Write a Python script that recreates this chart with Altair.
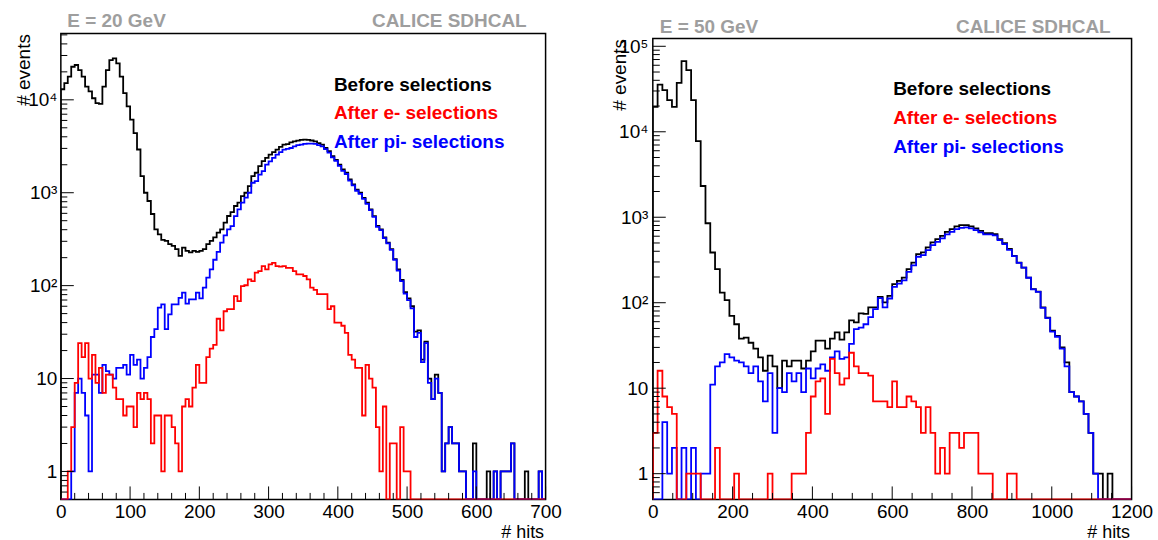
import altair as alt
import pandas as pd

FONT = "Liberation Sans"
FLOOR = 0.5  # y minimum of both panels; empty bins lie on it

# ---------------- E = 20 GeV : 140 bins of 5 hits (0..700) ----------------
bin_20 = 5
black_20 = [13000, 15100, 17800, 22700, 23700, 20900, 17800, 13900, 12300, 10400,
            9200, 9050, 13900, 20900, 26800, 28000, 24700, 17800, 11800, 8490,
            6110, 4390, 2920, 1510, 1000, 815, 590, 404, 357, 311,
            304, 280, 268, 247, 209, 257, 237, 228, 237, 231,
            237, 247, 280, 304, 330, 372, 404, 477, 562, 617,
            720, 782, 921, 1000, 1178, 1510, 1640, 1930, 2185, 2370,
            2575, 2730, 2910, 3110, 3290, 3340, 3490, 3570, 3630, 3700,
            3720, 3700, 3650, 3570, 3420, 3290, 3030, 2800, 2480, 2250,
            2010, 1780, 1640, 1390, 1230, 1080, 1000, 880, 780, 660,
            560, 440, 404, 330, 291, 247, 193, 150, 115, 85,
            73, 60, 32, 33, 16, 25, 10, 6, 11, 7,
            1, 2, 3, 2, 2, 1, 1, 0, 0, 2,
            0, 0, 0, 1, 0, 1, 0, 1, 1, 1,
            2, 0, 0, 0, 1, 0, 0, 0, 1, 0]
blue_20 = [0, 0, 0, 1, 7, 10, 7, 4, 1, 11,
           11, 7, 14, 12, 11, 10, 13, 13, 14, 11,
           18, 14, 16, 10, 13, 17, 28, 34, 58, 63,
           34, 49, 63, 63, 74, 84, 64, 71, 71, 84,
           73, 95, 122, 150, 190, 231, 291, 348, 404, 438,
           561, 662, 782, 884, 1000, 1280, 1333, 1570, 1710, 2010,
           2180, 2370, 2575, 2730, 2910, 2960, 3030, 3160, 3250, 3290,
           3350, 3380, 3380, 3350, 3250, 3150, 2950, 2700, 2400, 2200,
           1950, 1720, 1590, 1350, 1200, 1050, 970, 860, 760, 650,
           550, 430, 395, 325, 285, 243, 190, 145, 112, 82,
           70, 57, 28, 31, 15, 24, 9, 6, 10, 7,
           1, 2, 3, 2, 2, 1, 1, 0, 0, 1,
           0, 0, 0, 0, 0, 1, 0, 1, 1, 1,
           2, 0, 0, 0, 0, 0, 0, 0, 1, 0]
red_20 = [0, 0, 1, 3, 9, 24, 17, 24, 10, 18,
          9, 13, 7, 11, 11, 8, 6, 6, 4, 5,
          5, 3, 7, 6, 7, 6, 2, 4, 4, 1,
          4, 4, 3, 2, 1, 5, 6, 5, 8, 14,
          9, 9, 17, 21, 23, 44, 33, 53, 56, 56,
          77, 68, 99, 101, 117, 112, 138, 143, 162, 150,
          169, 176, 162, 160, 162, 155, 155, 143, 132, 132,
          127, 117, 95, 90, 81, 81, 81, 56, 60, 40,
          40, 37, 31, 18, 16, 13, 13, 4, 14, 10,
          8, 3, 1, 5, 0, 2, 2, 0, 3, 1,
          1, 0, 0, 0, 0, 0, 0, 0, 0, 0,
          0, 0, 0, 0, 0, 0, 0, 0, 0, 0,
          0, 0, 0, 0, 0, 0, 0, 0, 0, 0,
          0, 0, 0, 0, 0, 0, 0, 0, 0, 0]

# ---------------- E = 50 GeV : 100 bins of 12 hits (0..1200) ----------------
bin_50 = 12
black_50 = [19600, 35700, 30700, 23400, 19600, 37400, 66900, 52500, 23400, 7780,
            2320, 851, 387, 247, 131, 107, 70, 56, 38, 39,
            34, 29, 23, 16, 24, 18, 10, 21, 18, 21,
            21, 17, 21, 27, 36, 36, 29, 38, 45, 37,
            45, 62, 59, 75, 74, 88, 88, 117, 101, 120,
            165, 180, 197, 247, 294, 371, 388, 444, 508, 555,
            607, 676, 726, 781, 809, 809, 781, 740, 694, 653,
            653, 634, 555, 499, 425, 354, 294, 258, 197, 144,
            135, 88, 67, 47, 41, 30, 20, 9, 8, 7,
            5, 3, 1, 1, 0, 1, 0, 0, 0, 0]
blue_50 = [0, 0, 4, 1, 2, 0, 2, 0, 2, 0,
           1, 1, 11, 18, 20, 25, 23, 21, 20, 18,
           15, 18, 12, 7, 15, 3, 10, 9, 15, 12,
           15, 9, 17, 13, 17, 19, 16, 23, 27, 22,
           23, 33, 49, 51, 56, 68, 84, 113, 88, 112,
           153, 167, 183, 230, 273, 345, 361, 413, 472, 516,
           565, 629, 675, 726, 752, 760, 740, 705, 665, 630,
           630, 615, 540, 485, 415, 350, 292, 257, 196, 143,
           134, 87, 66, 46, 40, 29, 18, 9, 8, 7,
           5, 3, 1, 0, 0, 0, 0, 0, 0, 0]
red_50 = [3, 16, 8, 6, 5, 0, 0, 1, 1, 1,
          0, 0, 0, 2, 0, 0, 0, 1, 0, 0,
          0, 0, 0, 0, 1, 0, 0, 0, 0, 1,
          1, 1, 3, 8, 12, 13, 5, 22, 15, 11,
          13, 26, 18, 15, 15, 14, 7, 7, 7, 6,
          12, 6, 6, 8, 7, 6, 3, 6, 3, 1,
          2, 1, 3, 3, 2, 3, 3, 3, 1, 1,
          1, 0, 0, 0, 1, 1, 0, 0, 0, 0,
          0, 0, 0, 0, 0, 0, 0, 0, 0, 0,
          0, 0, 0, 0, 0, 0, 0, 0, 0, 0]

x_labels_20 = [0, 100, 200, 300, 400, 500, 600, 700]
x_labels_50 = [0, 200, 400, 600, 800, 1000, 1200]
y_labels_20 = [1, 10, 100, 1000, 10000]
y_labels_50 = [1, 10, 100, 1000, 10000, 100000]
legend_texts = ["Before selections", "After e- selections", "After pi- selections"]
legend_colors = ["#000000", "#ff0000", "#0000ff"]
energy_texts = ["E = 20 GeV", "E = 50 GeV"]
experiment = "CALICE SDHCAL"

LABEL_EXPR = ("datum.value < 50 ? format(datum.value, 'd') : '10' + "
              "(datum.value < 500 ? '\u00b2' : datum.value < 5000 ? '\u00b3' : "
              "datum.value < 50000 ? '\u2074' : '\u2075')")


def steps(counts, width):
    n = len(counts)
    xs = [0.0] + [i * width for i in range(n)] + [n * width, n * width]
    ys = [FLOOR] + [max(c, FLOOR) for c in counts] + [max(counts[-1], FLOOR), FLOOR]
    return pd.DataFrame({"x": xs, "y": ys, "o": list(range(len(xs)))})


def panel(black, red, blue, binw, xmax, ytop, w, h, xlabels, xmaj, xmin_step,
          ylabels, energy, g):
    xs = alt.Scale(domain=[0, xmax], nice=False, zero=False)
    ys = alt.Scale(type="log", domain=[FLOOR, ytop], nice=False)
    xaxis = alt.Axis(values=xlabels, ticks=False, tickSize=0, domain=False, grid=False,
                     labelFont=FONT, labelFontSize=19, labelColor="black",
                     labelPadding=3, labelFlush=False, labelOverlap=False, format="d",
                     title="# hits", titleFont=FONT, titleFontSize=18,
                     titleFontWeight="normal", titleColor="black", titleAlign="right",
                     titleBaseline="alphabetic", titleX=w - 2, titleY=38.5)
    yaxis = alt.Axis(values=ylabels, labelExpr=LABEL_EXPR, ticks=False, tickSize=0,
                     domain=False, grid=False, labelFont=FONT, labelFontSize=19,
                     labelColor="black", labelPadding=g["lpad"], labelFlush=False,
                     labelOverlap=False, title="# events", titleFont=FONT,
                     titleFontSize=19, titleFontWeight="normal", titleColor="black",
                     titleAngle=270, titleAlign="right", titleBaseline="alphabetic",
                     titleX=g["ytx"], titleY=0)

    def hist(counts, color):
        return alt.Chart(steps(counts, binw)).mark_line(
            interpolate="step-after", color=color, strokeWidth=1.8, clip=True
        ).encode(
            x=alt.X("x:Q", scale=xs, axis=xaxis),
            y=alt.Y("y:Q", scale=ys, axis=yaxis),
            order="o:Q",
        )

    decades = [10.0 ** d for d in range(-1, 7)]
    ymaj_v = [d for d in decades if FLOOR < d < ytop]
    ymin_v = [m * d for d in decades for m in range(2, 10) if FLOOR < m * d < ytop]
    xmaj_v = list(range(0, xmax + 1, xmaj))
    xmin_v = [v for v in range(0, xmax + 1, xmin_step) if v % xmaj]

    def yticks(vals, length):
        return alt.Chart(pd.DataFrame({"y": vals})).mark_rule(color="black", strokeWidth=1).encode(
            y=alt.Y("y:Q", scale=ys, axis=yaxis), x=alt.value(0), x2=alt.value(length))

    def xticks(vals, length):
        return alt.Chart(pd.DataFrame({"x": vals})).mark_rule(color="black", strokeWidth=1).encode(
            x=alt.X("x:Q", scale=xs, axis=xaxis), y=alt.value(h), y2=alt.value(h - length))

    def text(s, x, y, color, align="left"):
        return alt.Chart(pd.DataFrame({"t": [s]})).mark_text(
            align=align, baseline="alphabetic", font=FONT, fontSize=19,
            fontWeight="bold", color=color
        ).encode(text="t:N", x=alt.value(x), y=alt.value(y))

    marker = alt.Chart(pd.DataFrame({"a": [0]})).mark_rule(
        color="white", strokeOpacity=0
    ).encode(x=alt.value(g["mx"]), y=alt.value(g["my1"]), y2=alt.value(g["my2"]))

    layers = [hist(black, legend_colors[0]),
              hist(blue, legend_colors[2]),
              hist(red, legend_colors[1]),
              yticks(ymaj_v, g["ymaj"]), yticks(ymin_v, g["ymin"]),
              xticks(xmaj_v, 13), xticks(xmin_v, 6.5),
              marker,
              text(energy, g["ex"], g["ey"], "#9e9e9e"),
              text(experiment, g["cx"], g["ey"], "#9e9e9e", align="right")]
    for t, c, yy in zip(legend_texts, legend_colors, g["ly"]):
        layers.append(text(t, g["lx"], yy, c))
    return alt.layer(*layers).properties(width=w, height=h)


left = panel(black_20, red_20, blue_20, bin_20, 700, 51600, 486, 467,
             x_labels_20, 100, 20, y_labels_20, energy_texts[0],
             dict(lpad=4, ytx=-31.5, ymaj=13, ymin=6.5, mx=-59.5, my1=-31.5, my2=508.5,
                  ex=6.5, ey=-6.5, cx=467, lx=273.8, ly=[57.5, 86, 114.5]))

right = panel(black_50, red_50, blue_50, bin_50, 1200, 123000, 480, 462,
              x_labels_50, 200, 50, y_labels_50, energy_texts[1],
              dict(lpad=5, ytx=-27, ymaj=13, ymin=7, mx=505, my1=-36.3, my2=503.7,
                   ex=7, ey=-6, cx=459, lx=241, ly=[56.7, 85.7, 114.4]))

spacer = alt.Chart(pd.DataFrame({"a": [0]})).mark_point(opacity=0).encode(
    x=alt.value(0), y=alt.value(0)
).properties(width=480, height=4.8, view=alt.ViewBackground(stroke="transparent"))

right_col = alt.vconcat(spacer, right, spacing=0, bounds="flush")

chart = alt.hconcat(left, right_col, spacing=107.5, bounds="flush").properties(
    padding=0, background="white"
).configure_view(stroke="black", strokeWidth=1.5)

chart.save("out.html", embed_options={"renderer": "svg", "actions": False})
